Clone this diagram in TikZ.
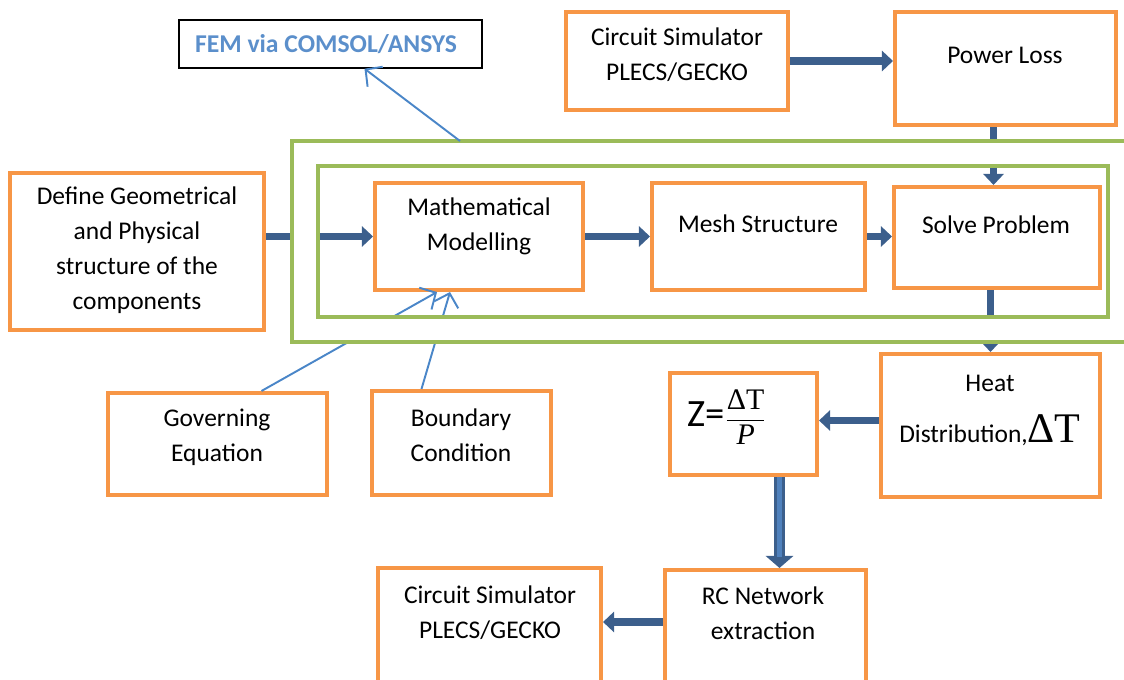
\documentclass[tikz,border=0pt]{standalone}
\usepackage{amsmath}
\usepackage{fontspec}
\setmainfont{Carlito}
\newfontfamily\seriffont{Liberation Serif}
\usetikzlibrary{arrows.meta, fit, calc}
\definecolor{boxorange}{HTML}{F79646}
\definecolor{framegreen}{HTML}{9BBB59}
\definecolor{arrowblue}{HTML}{3C5F8C}
\definecolor{arrowlight}{HTML}{4F81BD}
\definecolor{linkblue}{HTML}{4A86C8}
\definecolor{femblue}{HTML}{5B8FCB}

\begin{document}
\begin{tikzpicture}[x=0.02cm, y=-0.02cm,
		box/.style={draw=boxorange, line width=2.3pt, inner sep=0pt},
		frame/.style={draw=framegreen, line width=2pt},
		txt/.style={align=center, font=\fontsize{14.5}{20}\selectfont},
		fat/.style={arrowblue, line width=4.5pt, -{Triangle[length=0.22cm, width=0.4cm]}},
		thin/.style={linkblue, line width=1.1pt, -{Straight Barb[length=0.24cm, width=0.5cm]}}]
	\useasboundingbox (0,0) rectangle (1124,679);
	\clip (0,0) rectangle (1124,679);
	
	% Bloques
	\node[draw, line width=0.8pt, inner sep=0pt, fit={(179,20) (482,68)}] (fem) {};
	\node[box, fit={(566,12) (788,110)}] (cs1) {};
	\node[box, fit={(895,12) (1116,125)}] (loss) {};
	\node[box, fit={(10,173) (264,330)}] (def) {};
	\node[box, fit={(375,183) (583,290)}] (math) {};
	\node[box, fit={(652,183) (865,290)}] (mesh) {};
	\node[box, fit={(894,187) (1100,288)}] (solve) {};
	\node[box, fit={(881,354) (1100,497)}] (heat) {};
	\node[box, fit={(670,373) (817,475)}] (z) {};
	\node[box, fit={(108,393) (327,495)}] (gov) {};
	\node[box, fit={(372,391) (551,495)}] (bnd) {};
	\node[box, fit={(665,570) (866,700)}] (rc) {};
	\node[box, fit={(378,568) (601,700)}] (cs2) {};
	
	% Flechas gruesas
	\draw[fat] (cs1.east) -- (cs1.east -| loss.west);
	\draw[fat] ($(loss.south)+(-12,0)$) coordinate (ls) -- (ls |- solve.north);
	\draw[fat] (math.west -| def.east) -- (math.west);
	\draw[fat] (math.east) -- (mesh.west);
	\draw[fat] (mesh.east) -- (mesh.east -| solve.west);
	\draw[fat] (heat.north |- solve.south) -- (heat.north);
	\draw[fat] ($(heat.west)+(0,-5)$) coordinate (hw) -- (hw -| z.east);
	\draw[fat] ($(rc.north west)+(0,54)$) coordinate (rw) -- (rw -| cs2.east);
	\draw[arrowblue, line width=6.8pt, -{Triangle[length=0.24cm, width=0.54cm]}] ($(z.south)+(36,0)$) coordinate (zs) -- (zs |- rc.north);
	\draw[arrowlight, line width=2.4pt] (zs) -- ++(0,80);
	
	% Flechas finas
	\draw[thin] ($(gov.north)+(44,0)$) -- ($(math.south)+(-42,0)$);
	\draw[thin] ($(bnd.north)+(-40,0)$) -- ($(math.south)+(-29,0)$);
	
	% Marcos verdes
	\fill[white, even odd rule] (292,141) rectangle (1140,342) (318,166) rectangle (1108,317);
	\draw[frame] (1140,141) -- (292,141) -- (292,342) -- (1140,342);
	\draw[frame] (318,166) rectangle (1108,317);
	\coordinate (top) at (460,141);
	\draw[thin] (top) -- ($(fem.south)+(34,0)$);
	
	% Textos
	\node[text=femblue, font=\bfseries\fontsize{14.6}{16}\selectfont] (fem-t) at (326,44) {FEM via COMSOL/ANSYS};
	\node[txt] (cs1-t) at (677,55) {Circuit Simulator\\PLECS/GECKO};
	\node[txt] (loss-t) at (1005,55) {Power Loss};
	\node[txt] (def-t) at (137,250) {Define Geometrical\\and Physical\\structure of the\\components};
	\node[txt] (math-t) at (479,226) {Mathematical\\Modelling};
	\node[txt] (mesh-t) at (758,224) {Mesh Structure};
	\node[txt] (solve-t) at (996,225) {Solve Problem};
	\node[txt] (heat-t) at (990,410) {Heat\\[9pt]Distribution,{\seriffont\fontsize{24}{24}\selectfont ΔT}};
	\node[txt] (z-t) at (727,417) {{\fontsize{22}{22}\selectfont Z=}$\dfrac{\mbox{\seriffont\fontsize{17}{17}\selectfont ΔT}}{\mbox{\seriffont\itshape\fontsize{17}{17}\selectfont P}}$};
	\node[txt] (gov-t) at (217,437) {Governing\\Equation};
	\node[txt] (bnd-t) at (461,435) {Boundary\\Condition};
	\node[txt] (rc-t) at (763,613) {RC Network\\extraction};
	\node[txt] (cs2-t) at (490,613) {Circuit Simulator\\PLECS/GECKO};
\end{tikzpicture}
\end{document}
